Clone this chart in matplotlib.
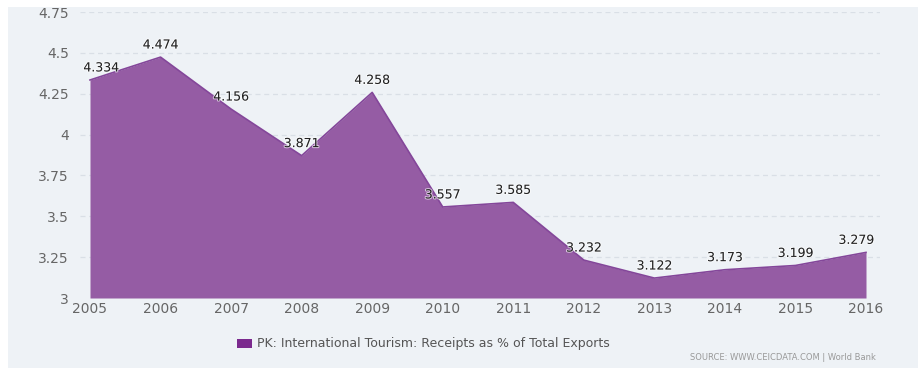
import matplotlib
matplotlib.use("Agg")
import numpy as np
import matplotlib.patheffects as pe
from matplotlib import pyplot as plt

years = [2005, 2006, 2007, 2008, 2009, 2010, 2011, 2012, 2013, 2014, 2015, 2016]
receipts = [4.334, 4.474, 4.156, 3.871, 4.258, 3.557, 3.585, 3.232, 3.122, 3.173, 3.199, 3.279]
yticks = [3, 3.25, 3.5, 3.75, 4, 4.25, 4.5, 4.75]
ytick_labels = ["3", "3.25", "3.5", "3.75", "4", "4.25", "4.5", "4.75"]
series_name = "PK: International Tourism: Receipts as % of Total Exports"
source = "SOURCE: WWW.CEICDATA.COM | World Bank"

bg = "#eef2f6"
fill = "#955ca4"
W, H = 920, 370

fig = plt.figure(figsize=(W / 100, H / 100), dpi=100, facecolor="white")
# panel background with a thin white margin around it
fig.patches.append(plt.Rectangle((8 / W, 2 / H), 910 / W, 361 / H, transform=fig.transFigure,
                                 facecolor=bg, edgecolor="none", zorder=-1))

ax = fig.add_axes([80 / W, (H - 298) / H, 800 / W, 286 / H])
ax.set_facecolor("none")
px = 776 / 11
ax.set_xlim(2005 - 10 / px, 2016 + 14 / px)
ax.set_ylim(3, 4.75)

for y in yticks[1:]:
    ax.axhline(y, color="#d9dfe6", lw=0.9, ls=(0, (4, 3)), zorder=0)

ax.fill_between(years, 3, receipts, color=fill, lw=0, zorder=2)
ax.plot(years, receipts, color="#84479a", lw=1.2, zorder=3)

# value labels, nudged inward at the two ends so they stay inside the plot
for i, (x, v) in enumerate(zip(years, receipts)):
    dx = 8 if i == 0 else (-7 if i == len(years) - 1 else 0)
    ax.annotate(f"{v:.3f}", (x, v), xytext=(dx, 4), textcoords="offset points",
                ha="center", va="bottom", fontsize=9, color="#222222", zorder=4,
                path_effects=[pe.withStroke(linewidth=1.5, foreground="white", alpha=0.6)])

for s in ax.spines.values():
    s.set_visible(False)
ax.set_yticks(yticks)
ax.set_yticklabels(ytick_labels)
ax.set_xticks(years)
ax.set_xticklabels([str(y) for y in years])
ax.tick_params(axis="y", length=0, pad=8, labelsize=10, labelcolor="#666666")
ax.tick_params(axis="x", length=0, pad=3, labelsize=10, labelcolor="#666666")

# legend
fig.patches.append(plt.Rectangle((237 / W, (H - 348) / H), 15 / W, 9 / H,
                                 transform=fig.transFigure, facecolor="#7b2a8e",
                                 edgecolor="none"))
fig.text(257 / W, (H - 343) / H, series_name, fontsize=9, color="#555555",
         va="center", ha="left")
fig.text(690 / W, (H - 357) / H, source, fontsize=6, color="#999999",
         va="center", ha="left")

fig.savefig("out.png", dpi=100, facecolor="white")
